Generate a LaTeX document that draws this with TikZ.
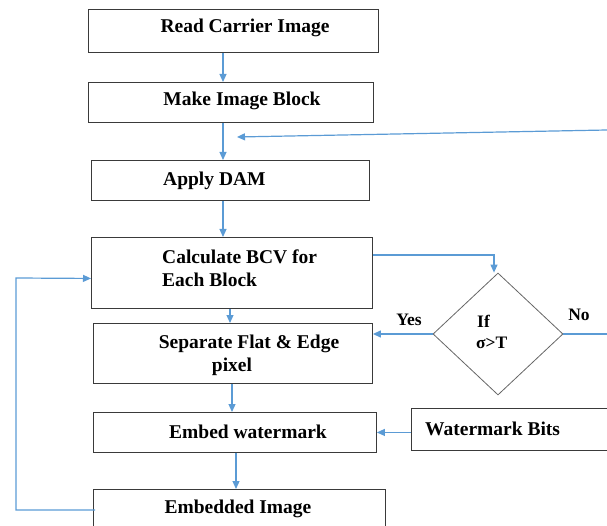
\documentclass[tikz,border=0pt]{standalone}
\usepackage{fontspec}
\setmainfont{Liberation Serif}
\usetikzlibrary{shapes.geometric,arrows.meta,calc}
\definecolor{arr}{HTML}{5B9BD5}
\definecolor{boxc}{HTML}{3A3A3A}
\begin{document}
\begin{tikzpicture}[x=1pt,y=-1pt,
  box/.style={draw=boxc,line width=0.9pt,rectangle,inner sep=0pt,anchor=north west},
  lbl/.style={font=\fontsize{19.5}{23}\selectfont\bfseries,inner sep=0pt,align=left},
  sml/.style={font=\fontsize{17.5}{20}\selectfont\bfseries,inner sep=0pt},
  conn/.style={draw=arr,line width=1.2pt},
  arrow/.style={conn,-{Triangle[width=7pt,length=8pt]}}]
\useasboundingbox (0,0) rectangle (607,526);
\clip (0,0) rectangle (607,526);
% boxes
\node[box,minimum width=290pt,minimum height=43pt] (b1) at (88,9) {};
\node[lbl] (t1) at (245,28) {Read Carrier Image};
\node[box,minimum width=285pt,minimum height=40pt] (b2) at (88,82) {};
\node[lbl] (t2) at (242,101) {Make Image Block};
\node[box,minimum width=278pt,minimum height=40pt] (b3) at (91,160) {};
\node[lbl,anchor=west] (t3) at (163,181) {Apply DAM};
\node[box,minimum width=281pt,minimum height=71pt] (b4) at (91,237) {};
\node[lbl,anchor=west] (t4) at (162,268) {Calculate BCV for\\Each Block};
\node[box,minimum width=279pt,minimum height=60pt] (b5) at (93,323) {};
\node[lbl,align=center] (t5) at (249,355) {Separate Flat \& Edge\\\hspace*{-34pt}pixel};
\node[box,minimum width=283pt,minimum height=40pt] (b6) at (93,412) {};
\node[lbl] (t6) at (248,432) {Embed watermark};
\node[box,minimum width=292pt,minimum height=55pt] (b7) at (93,489) {};
\node[lbl] (t7) at (238,509) {Embedded Image};
\node[box,minimum width=210pt,minimum height=42pt] (wb) at (411,408) {};
\node[lbl,anchor=west] (twb) at (425,429) {Watermark Bits};
% decision
\node[draw=black!60,line width=0.8pt,shape=diamond,minimum width=130pt,minimum height=122pt,inner sep=0pt] (dia) at (498,334) {};
\node[sml,anchor=west] (tif) at (477,321) {If};
\node[sml,anchor=west] (tsig) at (476,343) {σ>T};
\node[sml] (yes) at (409,320) {Yes};
\node[sml] (no) at (579,315) {No};
% connectors
\coordinate (fbR) at (607,130);
\coordinate (fbL) at (237,137);
\coordinate (noR) at (607,334);
\coordinate (lx) at (16,0);
\draw[arrow] (b1.south -| 223,0) -- (b2.north -| 223,0);
\draw[arrow] (b2.south -| 223,0) -- (b3.north -| 223,0);
\draw[arrow] (fbR) -- (fbL);
\draw[arrow] (b3.south -| 223,0) -- (b4.north -| 223,0);
\draw[arrow] ($(b4.north east)+(0,18)$) -| ($(dia.north)+(-4,0)$);
\draw[arrow] (b4.south -| 230,0) -- (b5.north -| 230,0);
\draw[arrow] (dia.west) -- (dia.west -| b5.east);
\draw[conn] (dia.east) -- (noR);
\draw[arrow] (b5.south -| 232,0) -- (b6.north -| 232,0);
\draw[arrow] (wb.west |- b6.east) -- (b6.east);
\draw[arrow] (b6.south -| 236,0) -- (b7.north -| 236,0);
\draw[arrow] ($(b7.north west)+(2,21)$) -| (lx |- 0,278) -- ($(b4.west)+(0,5.5)$);
\end{tikzpicture}
\end{document}
